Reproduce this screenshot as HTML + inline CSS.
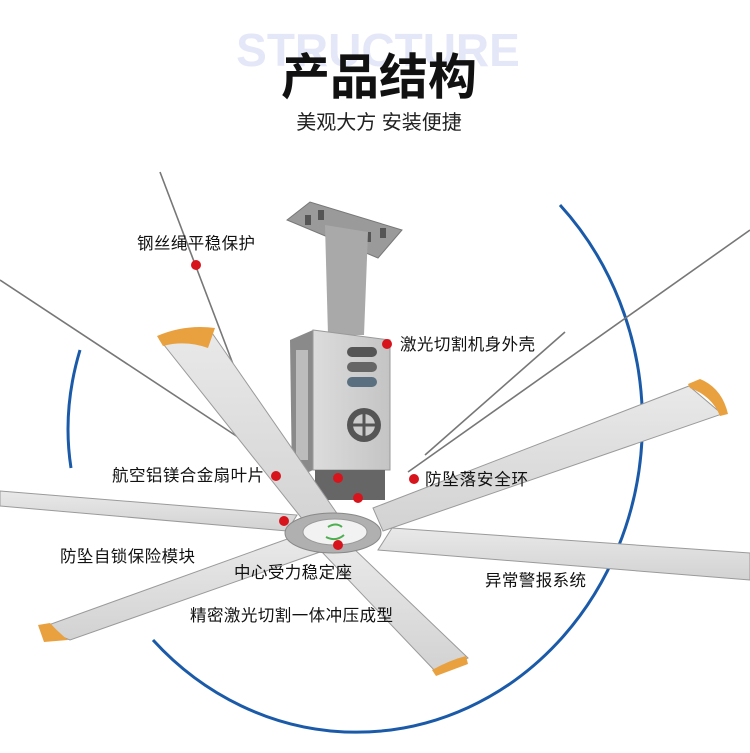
<!DOCTYPE html>
<html><head><meta charset="utf-8"><style>
html,body{margin:0;padding:0;background:#fff;}
svg{display:block;}
text{font-family:"Liberation Sans","Noto Sans CJK SC",sans-serif;}
</style></head><body>
<svg width="750" height="753" viewBox="0 0 750 753" xmlns="http://www.w3.org/2000/svg">
<defs>
<linearGradient id="bl" x1="0" y1="0" x2="0" y2="1"><stop offset="0" stop-color="#e9e9e9"/><stop offset="1" stop-color="#d2d2d2"/></linearGradient>
<linearGradient id="box" x1="0" y1="0" x2="1" y2="0"><stop offset="0" stop-color="#dcdcdc"/><stop offset="1" stop-color="#c4c4c4"/></linearGradient>
</defs>
<rect width="750" height="753" fill="#fff"/>
<text x="378" y="66" text-anchor="middle" font-size="46" font-weight="bold" fill="#e4e7f7">STRUCTURE</text>
<text x="379" y="94" text-anchor="middle" font-size="49" font-weight="bold" fill="#111">产品结构</text>
<text x="379" y="129" text-anchor="middle" font-size="20" fill="#222">美观大方 安装便捷</text>

<path d="M560,205 A265,287 0 1,1 153,640" fill="none" stroke="#1a5aa8" stroke-width="3"/>
<path d="M80,350 Q62,410 71,468" fill="none" stroke="#1a5aa8" stroke-width="3"/>

<g stroke="#777" stroke-width="1.6" fill="none">
<line x1="160" y1="172" x2="236" y2="372"/>
<line x1="0" y1="280" x2="250" y2="445"/>
<line x1="750" y1="230" x2="408" y2="472"/>
<line x1="565" y1="332" x2="425" y2="455"/>
</g>

<polygon points="287,220 310,202 402,230 378,258" fill="#9a9a9a" stroke="#777"/>
<g fill="#555"><rect x="305" y="215" width="6" height="10"/><rect x="318" y="210" width="6" height="10"/><rect x="365" y="232" width="6" height="10"/><rect x="380" y="228" width="6" height="10"/></g>
<polygon points="325,225 368,232 364,335 328,335" fill="#a9a9a9"/>
<polygon points="290,340 313,330 313,470 292,480" fill="#8a8a8a"/>
<rect x="296" y="350" width="12" height="110" fill="#ddd" opacity="0.6"/>
<polygon points="313,330 390,340 390,470 313,470" fill="url(#box)" stroke="#999"/>
<rect x="347" y="347" width="30" height="10" rx="5" fill="#555"/>
<rect x="347" y="362" width="30" height="10" rx="5" fill="#666"/>
<rect x="347" y="377" width="30" height="10" rx="5" fill="#5a7080"/>
<circle cx="364" cy="425" r="17" fill="#555"/>
<circle cx="364" cy="425" r="11" fill="#ccc"/>
<path d="M364,410 V440 M349,425 H379" stroke="#555" stroke-width="3"/>
<rect x="315" y="470" width="70" height="30" fill="#666"/>

<g stroke="#9a9a9a" stroke-width="1" fill="url(#bl)">
<polygon points="0,491 297,515 287,531 0,506"/>
<polygon points="160,340 210,330 345,525 315,535"/>
<polygon points="373,508 689,386 722,414 383,531"/>
<polygon points="392,528 750,553 750,580 378,550"/>
<polygon points="290,538 320,552 70,640 40,628"/>
<polygon points="320,550 350,545 468,658 436,672"/>
</g>
<g fill="#e9a140">
<path d="M157,336 Q185,324 215,328 L208,348 Q185,340 163,346 Z"/>
<path d="M688,384 L700,379 Q722,388 728,414 L720,416 Q712,396 690,388 Z"/>
<path d="M38,625 L50,623 Q58,632 68,640 L44,642 Z"/>
<path d="M432,670 Q450,660 466,656 L468,664 Q452,670 436,676 Z"/>
</g>

<ellipse cx="333" cy="533" rx="48" ry="20" fill="#b0b0b0" stroke="#888"/>
<ellipse cx="335" cy="532" rx="32" ry="13" fill="#f2f2f2" stroke="#999"/>
<path d="M328,527 q8,-5 14,0 M326,537 q10,5 18,-2" stroke="#4caf50" stroke-width="2" fill="none"/>

<g fill="#d7141c">
<circle cx="196" cy="265" r="5"/>
<circle cx="387" cy="344" r="5"/>
<circle cx="276" cy="476" r="5"/>
<circle cx="414" cy="479" r="5"/>
<circle cx="338" cy="478" r="5"/>
<circle cx="358" cy="498" r="5"/>
<circle cx="284" cy="521" r="5"/>
<circle cx="338" cy="545" r="5"/>
</g>

<g font-size="16.5" fill="#111">
<text x="137" y="249" textLength="118">钢丝绳平稳保护</text>
<text x="400" y="350" textLength="135">激光切割机身外壳</text>
<text x="112" y="481" textLength="152">航空铝镁合金扇叶片</text>
<text x="425" y="485" textLength="103">防坠落安全环</text>
<text x="60" y="562" textLength="135">防坠自锁保险模块</text>
<text x="234" y="578" textLength="118">中心受力稳定座</text>
<text x="485" y="586" textLength="101">异常警报系统</text>
<text x="190" y="621" textLength="203">精密激光切割一体冲压成型</text>
</g>
</svg>
</body></html>
